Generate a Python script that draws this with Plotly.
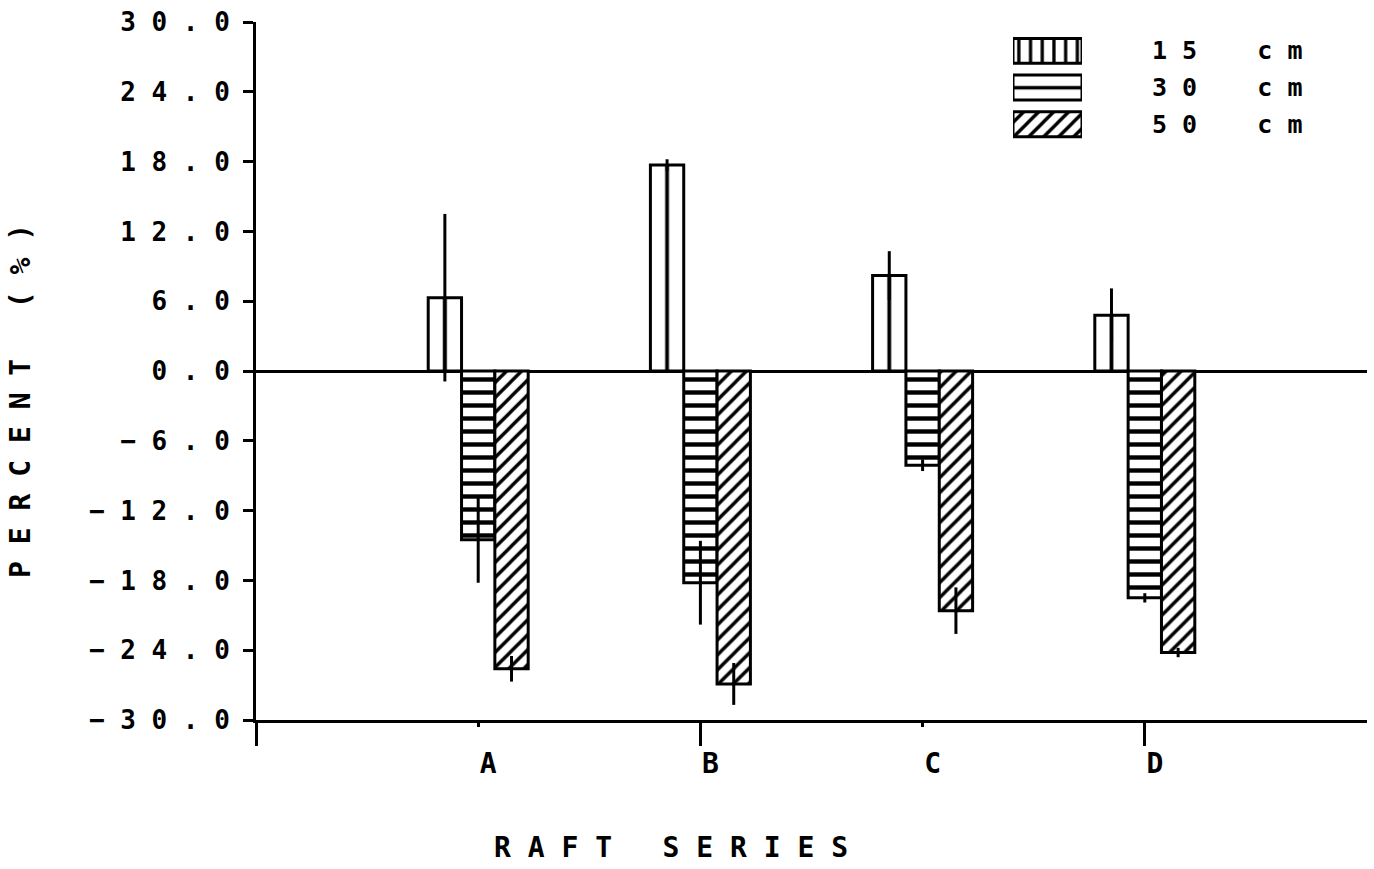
import plotly.graph_objects as go

# ---- data -------------------------------------------------------------
CATEGORIES = ["A", "B", "C", "D"]
DEPTHS = ["15 cm", "30 cm", "50 cm"]

PCT_15 = [6.3, 17.7, 8.2, 4.8]
PCT_30 = [-14.5, -18.2, -8.1, -19.5]
PCT_50 = [-25.6, -26.9, -20.6, -24.2]

ERR_15 = [7.2, 0.5, 2.1, 2.3]
ERR_30 = [3.7, 3.6, 0.5, 0.4]
ERR_50 = [1.1, 1.8, 2.0, 0.4]

Y_TICK_VALUES = [-30, -24, -18, -12, -6, 0, 6, 12, 18, 24, 30]
Y_TICK_LABELS = ["\u221230.0", "\u221224.0", "\u221218.0", "\u221212.0", "\u22126.0",
                 "0.0", "6.0", "12.0", "18.0", "24.0", "30.0"]

X_TITLE = "RAFT SERIES"
Y_TITLE = "PERCENT (%)"

# ---- styling ----------------------------------------------------------
NB = "\u00a0"
FONT = "DejaVu Sans Mono"


def spaced(text, gap=3):
    """Plotter-style lettering: one blank between letters, wider between words."""
    return (NB * gap).join(NB.join(w) for w in text.split(" "))


W, H = 1374, 869
M_L, M_R, M_T, M_B = 256, 7, 20, 149
plot_w = W - M_L - M_R
plot_h = H - M_T - M_B
X_RANGE = [0, 5]
unit_px = plot_w / (X_RANGE[1] - X_RANGE[0])

bar_patterns = [
    dict(shape="|", size=unit_px / 10, solidity=0.17),
    dict(shape="-", size=13, solidity=0.34),
    dict(shape="/", size=10.6, solidity=0.32),
]

positions = list(range(1, len(CATEGORIES) + 1))
series = [(PCT_15, ERR_15), (PCT_30, ERR_30), (PCT_50, ERR_50)]

fig = go.Figure()

for name, (vals, errs), pat in zip(DEPTHS, series, bar_patterns):
    fig.add_trace(go.Bar(
        x=positions, y=vals, name=name,
        marker=dict(
            color="white",
            line=dict(color="black", width=3),
            pattern=dict(fgcolor="black", bgcolor="white", fillmode="replace", **pat),
        ),
        error_y=dict(type="data", array=errs, color="black", thickness=3, width=0),
    ))

# ---- key (patterned swatches on a small inset axis) -------------------
key_x = [(1013 - M_L) / plot_w, (1082 - M_L) / plot_w]
key_top_px, key_bot_px = 30.6, 140.9
key_y = [(H - M_B - key_bot_px) / plot_h, (H - M_B - key_top_px) / plot_h]
row_px = (key_bot_px - key_top_px) / len(DEPTHS)

key_patterns = [
    dict(shape="|", size=11.7, solidity=0.28),
    dict(shape="-", size=row_px, solidity=0.1),
    dict(shape="/", size=10.6, solidity=0.32),
]

for i, (name, pat) in enumerate(zip(DEPTHS, key_patterns)):
    fig.add_trace(go.Bar(
        x=[1], y=[i], orientation="h", xaxis="x2", yaxis="y2",
        width=0.68, offset=-0.34, showlegend=False, hoverinfo="skip",
        marker=dict(
            color="white",
            line=dict(color="black", width=3),
            pattern=dict(fgcolor="black", bgcolor="white", fillmode="replace", **pat),
        ),
    ))
    fig.add_annotation(
        xref="paper", yref="y2", x=(1150 - M_L) / plot_w, y=i,
        xanchor="left", yanchor="middle", showarrow=False,
        text=spaced(name, gap=4), font=dict(size=25),
    )

# ---- axis titles ------------------------------------------------------
fig.add_annotation(
    xref="paper", yref="paper",
    x=(671 - M_L) / plot_w, y=(H - M_B - 848) / plot_h,
    xanchor="center", yanchor="middle", showarrow=False,
    text=spaced(X_TITLE, gap=3), font=dict(size=28),
)
fig.add_annotation(
    xref="paper", yref="paper",
    x=(21 - M_L) / plot_w, y=(H - M_B - 400) / plot_h,
    xanchor="center", yanchor="middle", showarrow=False, textangle=-90,
    text=spaced(Y_TITLE, gap=3), font=dict(size=28),
)

fig.update_layout(
    width=W, height=H,
    margin=dict(l=M_L, r=M_R, t=M_T, b=M_B, pad=0),
    paper_bgcolor="white", plot_bgcolor="white",
    barmode="group", bargap=0.55, bargroupgap=0,
    showlegend=False,
    font=dict(family=FONT, color="black", size=25, weight="bold"),
    xaxis=dict(
        range=X_RANGE, tickvals=positions, ticktext=CATEGORIES,
        ticks="outside", ticklen=4, tickwidth=3, tickcolor="black",
        showline=True, linewidth=3, linecolor="black",
        showgrid=False, zeroline=False,
        minor=dict(tickvals=[0, 2, 4], ticks="outside", ticklen=23,
                   tickwidth=3, tickcolor="black", showgrid=False),
        ticklabelshift=10, ticklabelstandoff=12,
        tickfont=dict(size=28),
    ),
    yaxis=dict(
        range=[-30, 30], tickvals=Y_TICK_VALUES,
        ticktext=[spaced(t) for t in Y_TICK_LABELS],
        ticks="outside", ticklen=10, tickwidth=3, tickcolor="black",
        showline=True, linewidth=3, linecolor="black",
        showgrid=False, zeroline=True, zerolinewidth=3, zerolinecolor="black",
        ticklabelstandoff=8, tickfont=dict(size=26),
    ),
    xaxis2=dict(domain=key_x, range=[0, 1], anchor="y2", visible=False),
    yaxis2=dict(domain=key_y, range=[len(DEPTHS) - 0.5, -0.5], anchor="x2", visible=False),
)

fig.write_html("out.html")
